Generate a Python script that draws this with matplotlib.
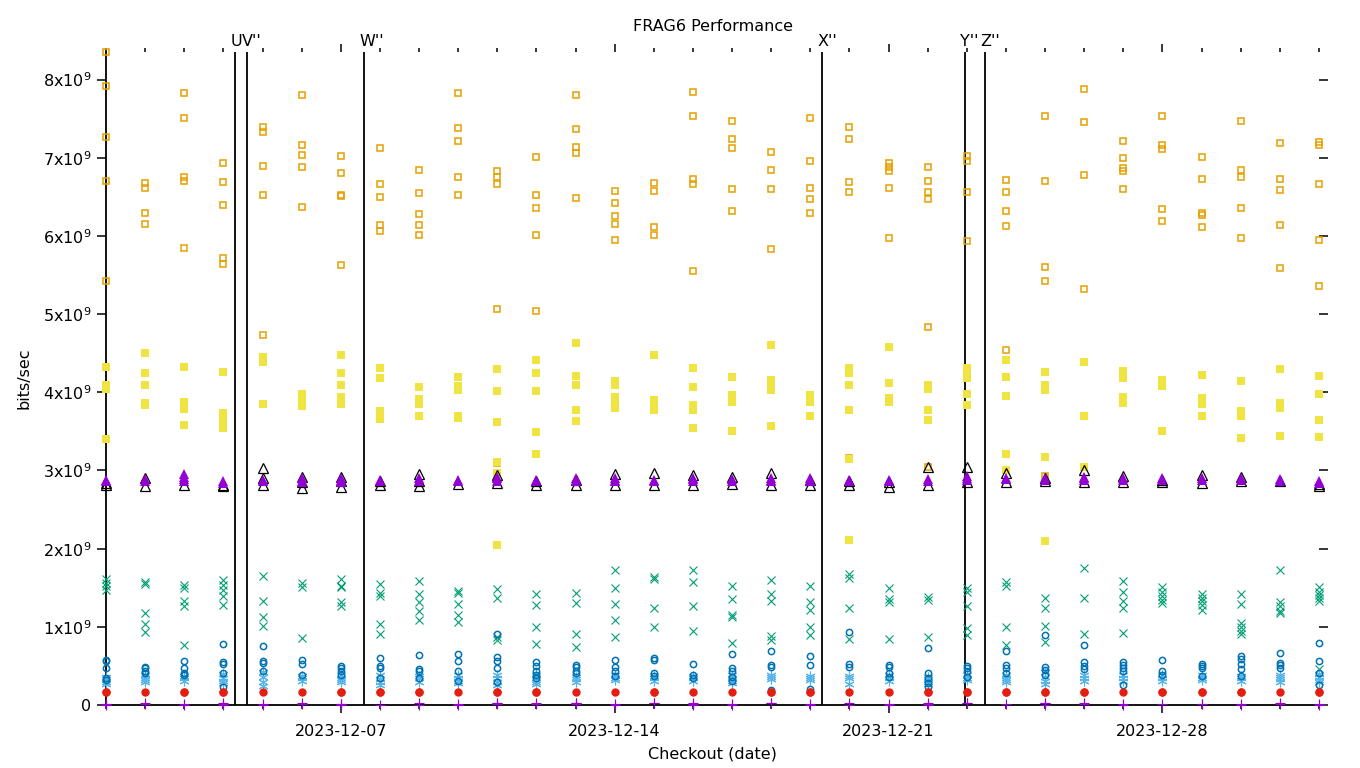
import matplotlib
matplotlib.use("Agg")
import matplotlib.pyplot as plt
import matplotlib.dates as mdates
from matplotlib.ticker import FixedLocator, FixedFormatter
import pandas as pd
import numpy as np

# ---------------- data (values in units of 1e9 bits/sec) ----------------
days = pd.date_range("2023-12-01", "2024-01-01", freq="D")

plus_purple = [
    [0.003, 0.007, 0.011], [0.02, 0.01], [0.004, 0.008], [0.005, 0.01, 0.02],
    [0.003, 0.008], [0.02, 0.012], [0.004, 0.008, 0.012], [0.0],
    [0.005, 0.02], [0.004, 0.01], [0.01, 0.02, 0.03], [0.01, 0.02],
    [0.01, 0.02, 0.03], [0.005, 0.01], [0.02, 0.03], [0.004, 0.01, 0.02],
    [0.005, 0.012], [0.02, 0.03], [0.004, 0.01], [0.005, 0.02],
    [0.004, 0.015], [0.005, 0.012, 0.02], [0.02, 0.03], [0.015],
    [0.005, 0.02, 0.03], [0.01, 0.02], [0.004, 0.01], [0.015],
    [0.01, 0.015], [0.004, 0.01], [0.01, 0.02], [0.004, 0.01],
]
x_green = [
    [1.61, 1.56, 1.52, 1.47], [1.57, 1.55, 1.18, 1.04, 0.94], [1.53, 1.50, 1.33, 1.27, 0.77], [1.60, 1.53, 1.47, 1.39, 1.28],
    [1.65, 1.33, 1.13, 1.01], [1.56, 1.51, 0.86], [1.61, 1.52, 1.51, 1.32, 1.27], [1.55, 1.43, 1.39, 1.04, 0.91],
    [1.59, 1.42, 1.32, 1.20, 1.09], [1.46, 1.43, 1.29, 1.15, 1.06], [1.48, 1.37, 0.87, 0.83], [1.42, 1.28, 1.00, 0.78],
    [1.43, 1.30, 0.91, 0.74], [1.73, 1.50, 1.29, 1.09, 0.87], [1.64, 1.61, 1.24, 1.00], [1.73, 1.57, 1.27, 0.95],
    [1.52, 1.36, 1.15, 1.13, 0.79], [1.60, 1.42, 1.33, 0.88, 0.83], [1.52, 1.32, 1.21, 1.00, 0.90], [1.67, 1.62, 1.24, 0.84],
    [1.50, 1.36, 1.32, 0.84], [1.38, 1.34, 0.87], [1.50, 1.45, 1.27, 0.98, 0.90], [1.57, 1.52, 1.00, 0.77],
    [1.37, 1.24, 1.01, 0.81], [1.75, 1.37, 0.91], [1.59, 1.45, 1.33, 1.24, 0.92], [1.51, 1.45, 1.39, 1.34, 1.30],
    [1.42, 1.37, 1.33, 1.28, 1.21], [1.42, 1.29, 1.05, 1.00, 0.95, 0.91], [1.73, 1.32, 1.27, 1.20, 1.18], [1.51, 1.45, 1.41, 1.37, 1.33, 0.46],
]
star_lightblue = [
    [0.36, 0.33, 0.30, 0.27], [0.38, 0.35, 0.32, 0.30], [0.37, 0.34, 0.31], [0.40, 0.35, 0.31, 0.28],
    [0.42, 0.36, 0.30, 0.24], [0.37, 0.34, 0.31], [0.38, 0.35, 0.32, 0.29], [0.38, 0.33, 0.29, 0.26],
    [0.37, 0.34, 0.30], [0.38, 0.35, 0.31, 0.28], [0.38, 0.34, 0.30, 0.25], [0.38, 0.34, 0.30, 0.27],
    [0.36, 0.33, 0.30], [0.38, 0.35, 0.32], [0.37, 0.34, 0.31], [0.37, 0.34, 0.31],
    [0.39, 0.35, 0.31, 0.28], [0.38, 0.36, 0.33], [0.37, 0.35, 0.32], [0.37, 0.35, 0.27],
    [0.38, 0.34, 0.31], [0.36, 0.33, 0.30, 0.27], [0.38, 0.35, 0.32], [0.38, 0.35, 0.32, 0.29],
    [0.42, 0.36, 0.31, 0.27], [0.38, 0.35, 0.31], [0.38, 0.35, 0.31], [0.38, 0.35, 0.31],
    [0.38, 0.35, 0.32], [0.37, 0.34, 0.31], [0.38, 0.36, 0.33, 0.30], [0.40, 0.36, 0.32, 0.29],
]
sq_orange = [
    [8.36, 7.92, 7.26, 6.70, 5.42], [6.68, 6.62, 6.30, 6.15], [7.83, 7.51, 6.75, 6.70, 5.84], [6.93, 6.69, 6.39, 5.72, 5.64],
    [7.40, 7.33, 6.89, 6.52, 4.73], [7.80, 7.17, 7.03, 6.88, 6.37], [7.02, 6.80, 6.52, 6.51, 5.63], [7.12, 6.66, 6.50, 6.14, 6.07],
    [6.84, 6.55, 6.28, 6.14, 6.01], [7.83, 7.38, 7.22, 6.75, 6.52], [6.83, 6.75, 6.67, 5.06, 3.09], [7.01, 6.52, 6.36, 6.01, 5.04],
    [7.80, 7.37, 7.14, 7.06, 6.48], [6.57, 6.42, 6.25, 6.15, 5.95], [6.68, 6.57, 6.11, 6.01], [7.84, 7.53, 6.73, 6.66, 5.55],
    [7.47, 7.24, 7.12, 6.60, 6.32], [7.08, 6.85, 6.60, 5.83], [7.51, 6.96, 6.61, 6.47, 6.30], [7.39, 7.24, 6.69, 6.56, 3.16],
    [6.93, 6.88, 6.83, 6.61, 5.98], [6.88, 6.70, 6.56, 6.47, 4.83, 3.04], [7.02, 6.96, 6.56, 5.93], [6.71, 6.56, 6.32, 6.13, 4.54],
    [7.54, 6.70, 5.60, 5.42, 2.93], [7.88, 7.46, 6.78, 5.32], [7.22, 7.00, 6.87, 6.83, 6.60], [7.54, 7.16, 7.11, 6.34, 6.19],
    [7.01, 6.73, 6.30, 6.27, 6.11], [7.47, 6.85, 6.75, 6.36, 5.98], [7.19, 6.73, 6.59, 6.14, 5.59], [7.20, 7.16, 6.66, 5.95, 5.36],
]
sq_yellow = [
    [4.32, 4.10, 4.04, 3.40], [4.50, 4.25, 4.10, 3.86, 3.84], [4.32, 3.87, 3.79, 3.58], [4.26, 3.73, 3.67, 3.58, 3.54],
    [4.45, 4.39, 3.85], [3.98, 3.91, 3.86, 3.82], [4.48, 4.25, 4.10, 3.94, 3.85], [4.31, 4.18, 3.76, 3.66],
    [4.07, 3.91, 3.85, 3.70], [4.19, 4.08, 4.03, 3.70, 3.67], [4.30, 4.02, 3.62, 3.11, 2.97, 2.05], [4.41, 4.25, 4.02, 3.49, 3.21],
    [4.63, 4.21, 4.09, 3.77, 3.63], [4.14, 4.09, 3.94, 3.87, 3.80], [4.48, 3.90, 3.84, 3.77], [4.31, 4.07, 3.84, 3.77, 3.54],
    [4.19, 3.96, 3.87, 3.50], [4.60, 4.16, 4.09, 4.03, 3.57], [3.96, 3.93, 3.87, 3.70], [4.31, 4.25, 4.10, 3.77, 3.15, 2.11],
    [4.58, 4.12, 3.93, 3.87], [4.09, 4.04, 3.77, 3.64], [4.31, 4.23, 4.18, 3.98, 3.84], [4.41, 4.19, 3.95, 3.21, 3.00],
    [4.26, 4.09, 4.03, 3.17, 2.10], [4.39, 3.70, 3.04], [4.27, 4.18, 3.94, 3.86], [4.16, 4.08, 3.50],
    [4.22, 3.93, 3.85, 3.70], [4.14, 3.76, 3.70, 3.41], [4.30, 3.86, 3.80, 3.44], [4.21, 3.98, 3.64, 3.43],
]
circ_blue = [
    [0.58, 0.56, 0.47, 0.34, 0.32], [0.49, 0.47, 0.44, 0.41], [0.56, 0.47, 0.41, 0.38], [0.78, 0.55, 0.52, 0.41, 0.23],
    [0.75, 0.56, 0.54, 0.44], [0.58, 0.53, 0.38], [0.50, 0.47, 0.43, 0.38], [0.60, 0.50, 0.47, 0.34],
    [0.64, 0.46, 0.43, 0.35], [0.65, 0.56, 0.44, 0.31], [0.91, 0.62, 0.56, 0.47, 0.30], [0.55, 0.50, 0.43, 0.38, 0.34],
    [0.51, 0.48, 0.44, 0.41], [0.58, 0.49, 0.43, 0.37], [0.60, 0.58, 0.41, 0.37], [0.53, 0.38, 0.35],
    [0.65, 0.47, 0.43, 0.36, 0.31], [0.69, 0.51, 0.49, 0.19], [0.63, 0.51, 0.21], [0.94, 0.52, 0.49],
    [0.51, 0.48, 0.41, 0.36], [0.73, 0.41, 0.34, 0.28, 0.23], [0.50, 0.47, 0.43, 0.36], [0.69, 0.51, 0.47, 0.41],
    [0.90, 0.48, 0.45, 0.38], [0.77, 0.55, 0.50, 0.46], [0.55, 0.51, 0.47, 0.44, 0.25], [0.58, 0.43, 0.38],
    [0.53, 0.50, 0.47, 0.37], [0.63, 0.59, 0.52, 0.46, 0.37], [0.66, 0.54, 0.51, 0.47], [0.79, 0.56, 0.41, 0.26],
]
dot_red = [
    [0.16, 0.17], [0.16], [0.16, 0.17], [0.16, 0.17], [0.16], [0.16], [0.16, 0.17], [0.16, 0.17],
    [0.16, 0.17], [0.16], [0.16, 0.17], [0.16, 0.17], [0.16], [0.16], [0.16, 0.17], [0.16],
    [0.16], [0.16, 0.17], [0.16, 0.17], [0.16], [0.16], [0.16, 0.17], [0.16, 0.17], [0.16, 0.17],
    [0.16, 0.17], [0.16, 0.17], [0.16], [0.16, 0.17], [0.16, 0.17], [0.16, 0.17], [0.16], [0.16, 0.17],
]
tri_black = [
    [2.81, 2.84], [2.80, 2.90], [2.81], [2.80, 2.82], [2.81, 2.90, 3.03], [2.78, 2.85, 2.92], [2.79, 2.86, 2.92], [2.81, 2.86],
    [2.80, 2.87, 2.96], [2.83], [2.84, 2.94], [2.81, 2.86], [2.82, 2.88], [2.82, 2.95], [2.82, 2.97], [2.81, 2.94],
    [2.83, 2.92], [2.82, 2.97], [2.82, 2.88], [2.81, 2.86], [2.79, 2.85], [2.82, 3.04], [2.85, 3.04], [2.85, 2.97],
    [2.86, 2.90], [2.85, 3.00], [2.85, 2.93], [2.85, 2.88], [2.84, 2.94], [2.86, 2.92], [2.86], [2.80, 2.83],
]
tri_purple = [
    [2.86, 2.88], [2.86, 2.89], [2.86, 2.89, 2.92, 2.95], [2.84, 2.86], [2.86, 2.88], [2.85, 2.87, 2.90], [2.85, 2.88, 2.91], [2.86, 2.88],
    [2.87, 2.90], [2.86, 2.88], [2.87, 2.90, 2.92], [2.86, 2.88], [2.86, 2.88, 2.90], [2.86, 2.88, 2.90], [2.86, 2.88], [2.86, 2.89, 2.91],
    [2.87, 2.89], [2.86, 2.88, 2.90], [2.86, 2.88, 2.90], [2.86, 2.88], [2.86, 2.88], [2.87, 2.89], [2.88, 2.91, 2.93], [2.89, 2.91],
    [2.88, 2.90], [2.88, 2.90, 2.92], [2.88, 2.90], [2.88, 2.90], [2.88, 2.90], [2.88, 2.90], [2.87, 2.89], [2.84, 2.86],
]

event_times = pd.to_datetime([
    "2023-12-04 07:12", "2023-12-04 14:24", "2023-12-07 14:24",
    "2023-12-19 07:12", "2023-12-22 23:02", "2023-12-23 11:17",
])
# the V'' label covers the quotes of U'' in the reference, which reads "UV''"
event_labels = ["U", "V''", "W''", "X''", "Y''", "Z''"]

ytick_vals = [0, 1, 2, 3, 4, 5, 6, 7, 8]
ytick_labels = ["0"] + [f"{v}x10$^{{9}}$" for v in ytick_vals[1:]]
xtick_dates = pd.to_datetime(["2023-12-07", "2023-12-14", "2023-12-21", "2023-12-28"])
xtick_labels = ["2023-12-07", "2023-12-14", "2023-12-21", "2023-12-28"]

# ---------------- plot ----------------
plt.rcParams["font.family"] = ["DejaVu Sans"]
fig = plt.figure(figsize=(13.6, 7.68), dpi=100)
W, H = 1360, 768
L, R, T, B = 106, 1319, 51.5, 705
ax = fig.add_axes([L / W, (H - B) / H, (R - L) / W, (B - T) / H])

def flat(series):
    xs, ys = [], []
    for d, vals in zip(days, series):
        for v in vals:
            xs.append(d)
            ys.append(v * 1e9)
    return xs, ys

ew = 0.8
styles = [
    (plus_purple, dict(marker="+", color="#9400d3", ms=7, mew=ew, ls="none")),
    (x_green, dict(marker="x", color="#009e73", ms=6, mew=ew, ls="none")),
    (star_lightblue, dict(marker=(6, 2, 0), color="#56b4e9", ms=7, mew=ew, ls="none")),
    (sq_orange, dict(marker="s", mfc="none", mec="#e69f00", ms=5, mew=1.1, ls="none")),
    (sq_yellow, dict(marker="s", color="#f0e442", ms=5.5, mew=0, ls="none")),
    (circ_blue, dict(marker="o", mfc="none", mec="#0072b2", ms=4.5, mew=1.1, ls="none")),
    (dot_red, dict(marker="o", color="#e51e10", ms=6, mew=0, ls="none")),
    (tri_black, dict(marker="^", mfc="none", mec="black", ms=6.5, mew=0.9, ls="none")),
    (tri_purple, dict(marker="^", color="#9400d3", ms=7, mew=0, ls="none")),
]
for z, (series, st) in enumerate(styles):
    xs, ys = flat(series)
    ax.plot(xs, ys, clip_on=False, zorder=3 + z, **st)

for t, lab in zip(event_times, event_labels):
    ax.axvline(t, color="black", lw=1.3, zorder=2)
    ax.annotate(lab, xy=(t, 1), xycoords=("data", "axes fraction"),
                xytext=(-3.6, 4.0), textcoords="offset points",
                ha="left", va="baseline", fontsize=11.5)

ax.set_xlim(days[0], days[-1])
ax.set_ylim(0, 8.36e9)

for s in ("top", "right"):
    ax.spines[s].set_visible(False)
for s in ("left", "bottom"):
    ax.spines[s].set_linewidth(1.3)

ax.xaxis.set_major_locator(FixedLocator(mdates.date2num(xtick_dates)))
ax.xaxis.set_major_formatter(FixedFormatter(xtick_labels))
ax.xaxis.set_minor_locator(FixedLocator(mdates.date2num(days)))
ax.yaxis.set_major_locator(FixedLocator([v * 1e9 for v in ytick_vals]))
ax.yaxis.set_major_formatter(FixedFormatter(ytick_labels))

ax.tick_params(axis="x", which="major", direction="out", length=6, width=1.1,
               top=True, bottom=True, labelsize=11.5, pad=8)
ax.tick_params(axis="x", which="minor", direction="out", length=3, width=1.1,
               top=True, bottom=True)
ax.tick_params(axis="y", which="major", direction="out", length=6.5, width=1.1,
               left=True, right=True, labelsize=11.5, pad=4)

ax.set_title("FRAG6 Performance", fontsize=11.5, pad=15)
ax.set_xlabel("Checkout (date)", fontsize=11.5, labelpad=5)
ax.set_ylabel("bits/sec", fontsize=11.5, labelpad=8)

fig.savefig("out.png", dpi=100)
